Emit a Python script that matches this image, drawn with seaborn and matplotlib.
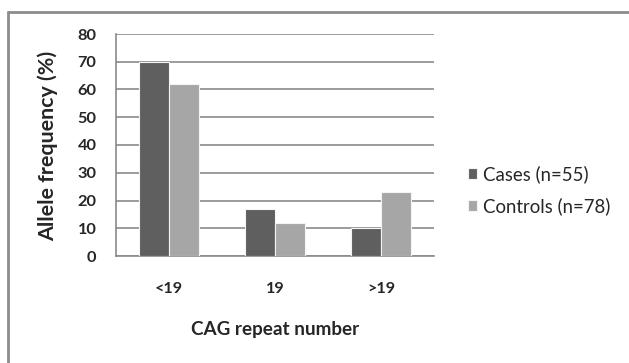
import pandas as pd
import seaborn as sns
import matplotlib.pyplot as plt
from matplotlib.lines import Line2D

# CAG repeat categories and allele frequencies (%)
categories = ["<19", "19", ">19"]
groups = ["Cases (n=55)", "Controls (n=78)"]
cases = [70, 17, 10]
controls = [62, 12, 23]
yticks = [0, 10, 20, 30, 40, 50, 60, 70, 80]

df = pd.DataFrame({
    "CAG": categories * 2,
    "Group": [groups[0]] * len(categories) + [groups[1]] * len(categories),
    "Freq": cases + controls,
})

sns.set_style("white")
plt.rcParams["font.family"] = ["Lato", "DejaVu Sans"]

W, H = 629, 363
fig = plt.figure(figsize=(W / 100, H / 100), dpi=100)
L, R, T, B = 116, 434, 34, 256
ax = fig.add_axes([L / W, 1 - B / H, (R - L) / W, (B - T) / H])

grid_col = "#8a8a8a"
text_col = "#262626"
sns.barplot(data=df, x="CAG", y="Freq", hue="Group",
            palette=["#5f5f5f", "#a6a6a6"], width=0.56,
            edgecolor="#f4f4f4", linewidth=0.8, ax=ax, zorder=3)

ax.set_xlim(-0.5, len(categories) - 0.5)
ax.set_ylim(0, 80)
ax.set_yticks(yticks)
ax.yaxis.grid(True, color=grid_col, lw=1.2)
ax.set_axisbelow(True)

for s in ["top", "right"]:
    ax.spines[s].set_visible(False)
for s in ["left", "bottom"]:
    ax.spines[s].set_color(grid_col)
    ax.spines[s].set_linewidth(1.2)

ax.tick_params(axis="y", length=6, width=1.2, color=grid_col, pad=8,
               labelsize=11.8, labelcolor=text_col)
ax.set_xticks([i - 0.5 for i in range(len(categories) + 1)], minor=True)
ax.tick_params(axis="x", which="minor", length=5, width=1.2, color=grid_col)
ax.tick_params(axis="x", which="major", length=0, pad=19,
               labelsize=11.6, labelcolor=text_col)
for t in ax.get_yticklabels() + ax.get_xticklabels():
    t.set_fontweight("bold")

ax.set_xlabel("CAG repeat number", fontsize=13.6, fontweight="bold", color=text_col)
ax.set_ylabel("Allele frequency (%)", fontsize=15.4, fontweight="bold", color=text_col)
ax.xaxis.label.set_va("center")
ax.yaxis.label.set_va("center")
ax.xaxis.set_label_coords(0.5, (B - 330) / (B - T))
ax.yaxis.set_label_coords((47.5 - L) / (R - L), (B - 146) / (B - T))

ax.legend(loc="center left", bbox_to_anchor=(468 / W, 1 - 190 / H),
          bbox_transform=fig.transFigure, frameon=False, fontsize=13.4,
          handlelength=0.5, handleheight=0.5, handletextpad=0.3,
          labelspacing=0.75, borderpad=0, borderaxespad=0)

# outer frame (left and top edges)
fig.add_artist(Line2D([8 / W, 8 / W], [0, 1 - 12 / H], transform=fig.transFigure,
                      color="#8c8c8c", lw=2))
fig.add_artist(Line2D([8 / W, 1], [1 - 12 / H, 1 - 12 / H], transform=fig.transFigure,
                      color="#8c8c8c", lw=2))

fig.savefig("out.png", dpi=100, facecolor="white")
